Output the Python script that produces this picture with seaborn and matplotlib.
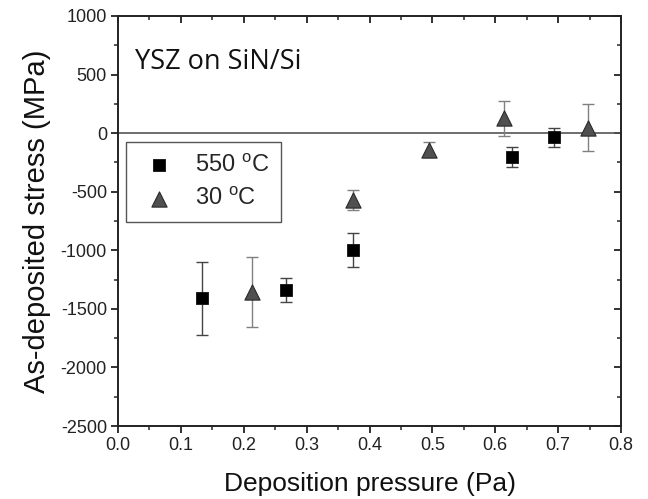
import numpy as np
import pandas as pd
import matplotlib
matplotlib.use("Agg")
import matplotlib.pyplot as plt
import seaborn as sns
from matplotlib.ticker import MultipleLocator, FormatStrFormatter

# Data
p_550 = [0.133, 0.267, 0.373, 0.627, 0.693]
s_550 = [-1410, -1340, -995, -205, -37]
e_550 = [310, 105, 145, 85, 78]

p_30 = [0.213, 0.373, 0.494, 0.614, 0.747]
s_30 = [-1355, -572, -140, 125, 45]
e_30 = [300, 85, 65, 150, 200]

labels = ["550 $^{\\mathrm{o}}$C", "30 $^{\\mathrm{o}}$C"]

df550 = pd.DataFrame({"pressure": p_550, "stress": s_550, "series": labels[0]})
df30 = pd.DataFrame({"pressure": p_30, "stress": s_30, "series": labels[1]})

sns.set_theme(style="ticks")
plt.rcParams['font.family'] = ['Liberation Sans', 'DejaVu Sans']
plt.rcParams['mathtext.fontset'] = 'custom'
plt.rcParams['mathtext.rm'] = 'Liberation Sans'
plt.rcParams['axes.unicode_minus'] = False

fig = plt.figure(figsize=(6.48, 4.99), dpi=100)
ax = fig.add_axes([118/648, 1 - 426/499, (621-118)/648, (426-16)/499])

ax.axhline(0, color="#555555", lw=1.2, zorder=1)

ax.errorbar(p_550, s_550, yerr=e_550, fmt="none", ecolor="#444444",
            elinewidth=1.0, capsize=4, capthick=1.0, zorder=2)
ax.errorbar(p_30, s_30, yerr=e_30, fmt="none", ecolor="#808080",
            elinewidth=1.0, capsize=4, capthick=1.0, zorder=2)

sns.scatterplot(data=df550, x="pressure", y="stress", marker="s", color="#000000",
                s=64, edgecolor="#111111", linewidth=0.6, ax=ax, zorder=3,
                label=labels[0])
sns.scatterplot(data=df30, x="pressure", y="stress", marker="^", color="#505050",
                s=120, edgecolor="#2a2a2a", linewidth=0.8, ax=ax, zorder=3,
                label=labels[1])

ax.set_xlim(0.0, 0.8)
ax.set_ylim(-2500, 1000)
ax.xaxis.set_major_locator(MultipleLocator(0.1))
ax.xaxis.set_minor_locator(MultipleLocator(0.05))
ax.yaxis.set_major_locator(MultipleLocator(500))
ax.yaxis.set_minor_locator(MultipleLocator(250))
ax.xaxis.set_major_formatter(FormatStrFormatter("%.1f"))

for sp in ax.spines.values():
    sp.set_visible(True)
    sp.set_linewidth(1.4)
    sp.set_color("#222222")

ax.tick_params(axis="both", which="major", direction="out", length=5, width=1.3,
               labelsize=13, colors="#222222", pad=3)
ax.tick_params(axis="both", which="minor", direction="out", length=3, width=1.1)
ax.tick_params(top=True, right=True, which="both")
for t in ax.xaxis.get_major_ticks() + ax.xaxis.get_minor_ticks():
    t.tick2line.set_marker(matplotlib.lines.TICKDOWN)
for t in ax.yaxis.get_major_ticks() + ax.yaxis.get_minor_ticks():
    t.tick2line.set_marker(matplotlib.lines.TICKLEFT)

ax.set_xlabel("Deposition pressure (Pa)", fontsize=19, labelpad=13, color="#111111")
ax.set_ylabel("As-deposited stress (MPa)", fontsize=21, labelpad=7, color="#111111")

ax.text(0.034, 0.888, "YSZ on SiN/Si", transform=ax.transAxes,
        fontsize=19.5, family=["Open Sans", "DejaVu Sans"], va="center", ha="left",
        color="#111111")

leg = ax.legend(loc="upper left", bbox_to_anchor=(0.016, 0.693), fontsize=17,
                frameon=True, fancybox=False, edgecolor="#555555", framealpha=1,
                handletextpad=0.6, borderpad=0.5, labelspacing=0.45,
                handlelength=1.8, borderaxespad=0)
leg.get_frame().set_linewidth(1.0)

fig.savefig("out.png", dpi=100)
